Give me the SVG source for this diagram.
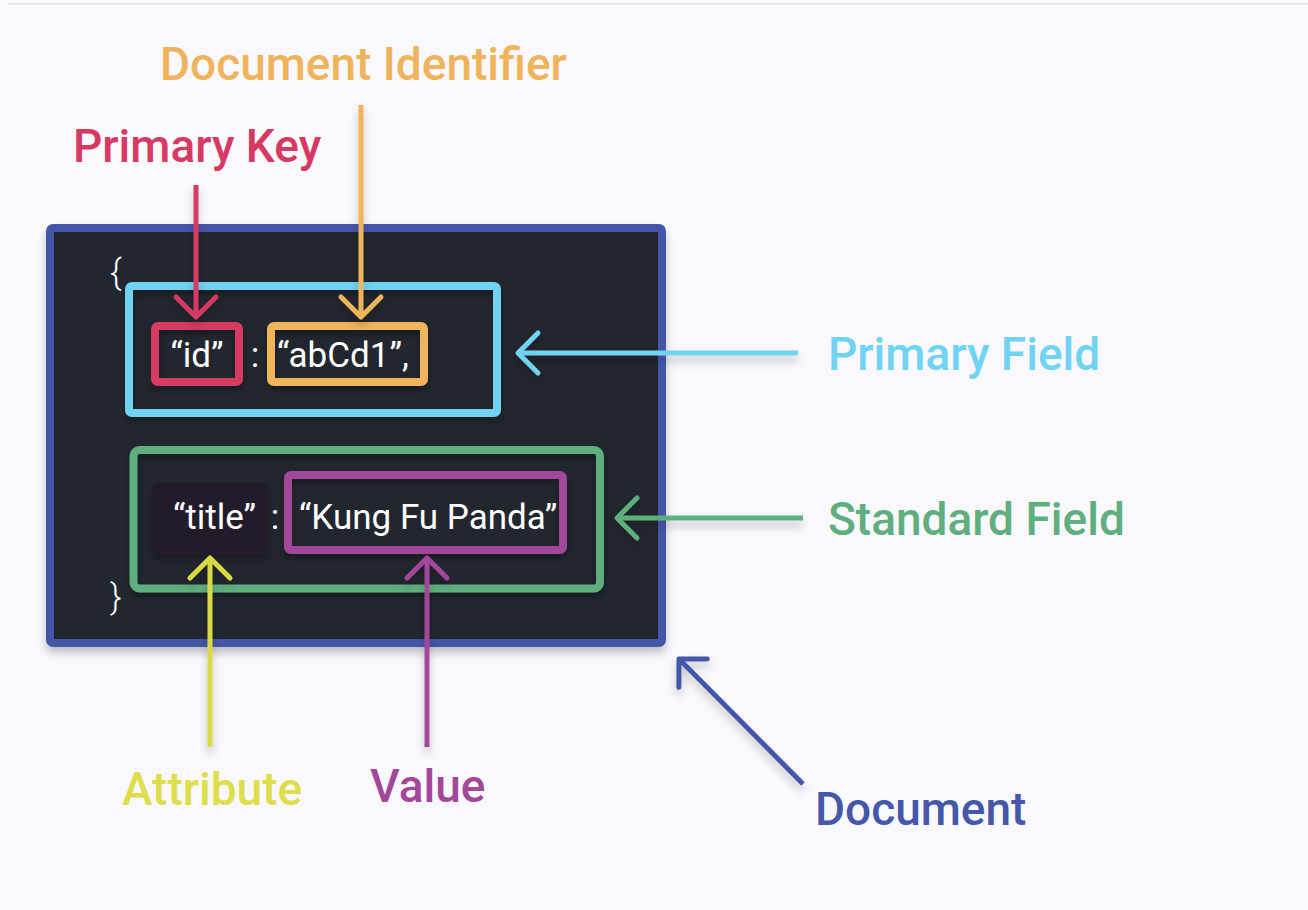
<svg xmlns="http://www.w3.org/2000/svg" width="1308" height="910" viewBox="0 0 1308 910">
  <style>
    .code { font-family: Roboto, "Liberation Sans", sans-serif; font-size: 35px; fill: #ffffff; }
    .brace { font-family: Roboto, "Liberation Sans", sans-serif; font-size: 35px; font-weight: 300; fill: #ffffff; }
    .label { font-family: Roboto, "Liberation Sans", sans-serif; font-size: 46px; font-weight: 500; }
    .frame { fill: none; stroke-width: 8; }
    .conn { fill: none; stroke-width: 5; }
  </style>
  <defs>
    <filter id="shadow" x="-20%" y="-20%" width="140%" height="150%">
      <feDropShadow dx="0" dy="6" stdDeviation="4" flood-color="#000000" flood-opacity="0.22"/>
    </filter>
    <filter id="softShadow" x="-20%" y="-20%" width="140%" height="150%">
      <feDropShadow dx="0" dy="4" stdDeviation="3" flood-color="#000000" flood-opacity="0.3"/>
    </filter>
    <marker id="ah-red" markerUnits="userSpaceOnUse" viewBox="-24 -24 28 48" refX="0" refY="0" markerWidth="28" markerHeight="48" orient="auto" overflow="visible">
      <path d="M-20,-20 L0,0 L-20,20" fill="none" stroke="#d63a62" stroke-width="5" stroke-linecap="round" stroke-linejoin="round"/>
    </marker>
    <marker id="ah-orange" markerUnits="userSpaceOnUse" viewBox="-24 -24 28 48" refX="0" refY="0" markerWidth="28" markerHeight="48" orient="auto" overflow="visible">
      <path d="M-20,-20 L0,0 L-20,20" fill="none" stroke="#efb45b" stroke-width="5" stroke-linecap="round" stroke-linejoin="round"/>
    </marker>
    <marker id="ah-cyan" markerUnits="userSpaceOnUse" viewBox="-24 -24 28 48" refX="0" refY="0" markerWidth="28" markerHeight="48" orient="auto" overflow="visible">
      <path d="M-20,-20 L0,0 L-20,20" fill="none" stroke="#71d3f2" stroke-width="5" stroke-linecap="round" stroke-linejoin="round"/>
    </marker>
    <marker id="ah-green" markerUnits="userSpaceOnUse" viewBox="-24 -24 28 48" refX="0" refY="0" markerWidth="28" markerHeight="48" orient="auto" overflow="visible">
      <path d="M-20,-20 L0,0 L-20,20" fill="none" stroke="#5fae7d" stroke-width="5" stroke-linecap="round" stroke-linejoin="round"/>
    </marker>
    <marker id="ah-yellow" markerUnits="userSpaceOnUse" viewBox="-24 -24 28 48" refX="0" refY="0" markerWidth="28" markerHeight="48" orient="auto" overflow="visible">
      <path d="M-20,-20 L0,0 L-20,20" fill="none" stroke="#d9d944" stroke-width="5" stroke-linecap="round" stroke-linejoin="round"/>
    </marker>
    <marker id="ah-purple" markerUnits="userSpaceOnUse" viewBox="-24 -24 28 48" refX="0" refY="0" markerWidth="28" markerHeight="48" orient="auto" overflow="visible">
      <path d="M-20,-20 L0,0 L-20,20" fill="none" stroke="#a2479a" stroke-width="5" stroke-linecap="round" stroke-linejoin="round"/>
    </marker>
    <marker id="ah-blue" markerUnits="userSpaceOnUse" viewBox="-24 -24 28 48" refX="0" refY="0" markerWidth="28" markerHeight="48" orient="auto" overflow="visible">
      <path d="M-20,-20 L0,0 L-20,20" fill="none" stroke="#4457a8" stroke-width="5" stroke-linecap="round" stroke-linejoin="round"/>
    </marker>
  </defs>

  <!-- page background and top rule -->
  <rect x="0" y="0" width="1308" height="910" fill="#f8f8fd"/>
  <rect x="8" y="3" width="1300" height="1.5" fill="#e3e3ec"/>

  <!-- document container -->
  <g id="document">
    <rect x="50" y="228" width="612" height="415" rx="3" fill="#23252d" stroke="#4457a8" stroke-width="8" filter="url(#shadow)"/>
    <text class="brace" x="110" y="284">{</text>
    <text class="brace" x="110" y="609">}</text>
  </g>

  <!-- primary field row -->
  <g id="primary-field">
    <rect class="frame" x="129" y="286" width="368" height="127" rx="3" stroke="#71d3f2" filter="url(#softShadow)"/>
  </g>
  <g id="primary-key">
    <rect class="frame" x="155" y="326" width="84" height="56" rx="3" stroke="#d63a62" filter="url(#softShadow)"/>
    <text class="code" x="197" y="367" text-anchor="middle">“id”</text>
  </g>
  <text class="code" x="255" y="367" text-anchor="middle">:</text>
  <g id="document-identifier">
    <rect class="frame" x="271" y="326" width="153" height="56" rx="3" stroke="#efb45b" filter="url(#softShadow)"/>
    <text class="code" x="277" y="367">“abCd1”,</text>
  </g>

  <!-- standard field row -->
  <g id="standard-field">
    <rect class="frame" x="133.5" y="450" width="466.5" height="138.5" rx="6" stroke="#5fae7d" filter="url(#softShadow)"/>
  </g>
  <g id="attribute">
    <rect x="153" y="483" width="115" height="72" rx="4" fill="#211f29" filter="url(#softShadow)"/>
    <text class="code" x="173" y="529">“title”</text>
  </g>
  <text class="code" x="275" y="529" text-anchor="middle">:</text>
  <g id="value">
    <rect class="frame" x="288" y="475" width="275" height="75" rx="3" stroke="#a2479a" filter="url(#softShadow)"/>
    <text class="code" x="299" y="529">“Kung Fu Panda”</text>
  </g>

  <!-- connectors -->
  <g id="connectors" filter="url(#shadow)">
    <line class="conn" x1="196" y1="185" x2="196" y2="317" stroke="#d63a62" marker-end="url(#ah-red)"/>
    <line class="conn" x1="361" y1="105" x2="361" y2="317" stroke="#efb45b" marker-end="url(#ah-orange)"/>
    <line class="conn" x1="798" y1="353" x2="518" y2="353" stroke="#71d3f2" marker-end="url(#ah-cyan)"/>
    <line class="conn" x1="803" y1="518" x2="617" y2="518" stroke="#5fae7d" marker-end="url(#ah-green)"/>
    <line class="conn" x1="210" y1="747" x2="210" y2="558" stroke="#d9d944" marker-end="url(#ah-yellow)"/>
    <line class="conn" x1="427" y1="747" x2="427" y2="558" stroke="#a2479a" marker-end="url(#ah-purple)"/>
    <line class="conn" x1="803" y1="784" x2="679" y2="659" stroke="#4457a8" marker-end="url(#ah-blue)"/>
  </g>

  <!-- labels -->
  <g id="labels">
    <text class="label" x="160" y="80" fill="#efb45b">Document Identifier</text>
    <text class="label" x="73" y="162" fill="#d63a62">Primary Key</text>
    <text class="label" x="828" y="370" fill="#71d3f2">Primary Field</text>
    <text class="label" x="828" y="535" fill="#5fae7d">Standard Field</text>
    <text class="label" x="122" y="805" fill="#dede4c">Attribute</text>
    <text class="label" x="370" y="802" fill="#a2479a">Value</text>
    <text class="label" x="815" y="825" fill="#4457a8">Document</text>
  </g>
</svg>
